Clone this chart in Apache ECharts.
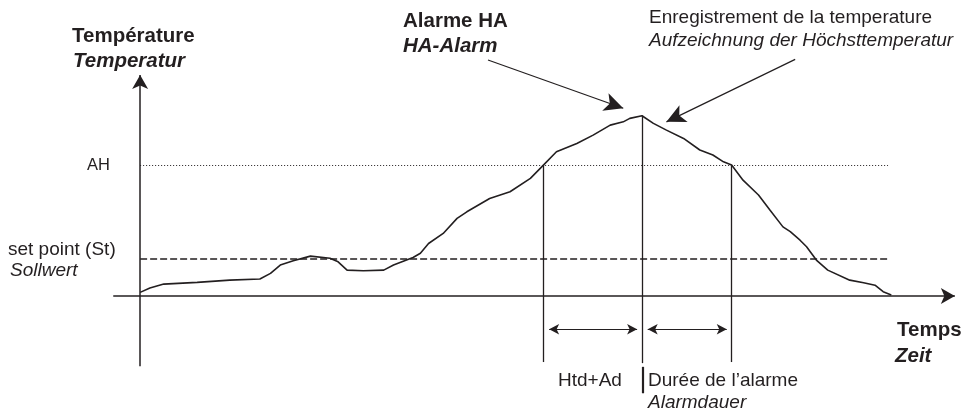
<!DOCTYPE html>
<html>
<head>
<meta charset="utf-8">
<script src="https://cdn.jsdelivr.net/npm/echarts@6/dist/echarts.min.js"></script>
<style>
  html, body { margin: 0; padding: 0; background: #fff; }
  #chart { width: 963px; height: 414px; }
</style>
</head>
<body>
<div id="chart"></div>
<script>
// temperature curve (time, temperature)
const timeVals = [0, 1.2, 2.9, 7.0, 11.0, 14.7, 16.0, 17.2, 18.8, 20.9, 23.3, 24.3, 25.4, 27.4, 29.9, 31.1, 33.5, 34.4, 35.4, 37.2, 38.9, 40.1, 42.9, 45.4, 47.9, 49.5, 51.1, 53.6, 55.6, 57.7, 59.3, 60.1, 61.6, 63.0, 64.6, 66.7, 68.7, 70.3, 71.6, 72.6, 74.0, 75.9, 77.3, 78.9, 79.8, 81.0, 81.8, 83.0, 84.4, 87.1, 88.8, 90.2, 91.2, 92.2]
const tempVals = [1.7, 3.7, 5.5, 6.3, 7.3, 7.8, 10.4, 14.2, 16.2, 18.3, 17.3, 15.7, 11.9, 11.6, 11.9, 14.2, 17.7, 19.6, 24.1, 28.7, 35.6, 38.6, 44.7, 47.8, 53.9, 60.0, 66.1, 69.9, 73.7, 78.3, 79.8, 81.4, 82.6, 79.1, 76.0, 72.2, 66.9, 64.6, 61.5, 60.0, 53.1, 46.3, 39.4, 31.7, 29.5, 25.6, 22.6, 16.5, 11.9, 7.3, 6.1, 5.0, 2.0, 0.5]

// thresholds and events
const setPoint = 17
const alarmHigh = 60
const alarmStart = 49.5
const peakTime = 61.6
const peakTemp = 82.6
const alarmEnd = 72.6
const refLineEnd = 91.8

const ink = '#231f20'
const chart = echarts.init(document.getElementById('chart'))

const curve = timeVals.map((t, i) => [t, tempVals[i]])

const seg = (a, b, startSym, endSym) => [
    { coord: a, symbol: startSym || 'none' },
    { coord: b, symbol: endSym || 'none' }
]

// text centred vertically on y
const txt = (text, x, y, font) => ({
    type: 'text', left: x, top: y - 9,
    style: { text: text, font: font, fill: ink, textVerticalAlign: 'top' }
})

const REG = '19px "Liberation Sans", Arial, sans-serif'
const ITA = 'italic 19px "Liberation Sans", Arial, sans-serif'
const BOLD = 'bold 20.5px "Liberation Sans", Arial, sans-serif'
const BOLDITA = 'italic bold 20.5px "Liberation Sans", Arial, sans-serif'

const markBase = { silent: true, animation: false, label: { show: false }, emphasis: { disabled: true } }

chart.setOption({
    animation: false,
    grid: { left: 0, right: 0, top: 0, bottom: 0 },
    xAxis: { type: 'value', min: -17.2, max: 101, show: false },
    yAxis: { type: 'value', min: -54, max: 135.6, show: false },
    series: [
        {
            type: 'line',
            data: curve,
            showSymbol: false,
            lineStyle: { color: ink, width: 1.6 },
            z: 5
        },
        {   // axes
            type: 'line', data: [],
            markLine: Object.assign({}, markBase, {
                symbolSize: [12, 14],
                lineStyle: { color: ink, width: 1.5, type: 'solid' },
                data: [
                    seg([-3.3, 0], [100, 0], 'none', 'arrow'),
                    seg([0, -32.1], [0, 101.2], 'none', 'arrow')
                ]
            })
        },
        {   // AH dotted
            type: 'line', data: [],
            markLine: Object.assign({}, markBase, {
                lineStyle: { color: ink, width: 1, type: [1, 2] },
                data: [seg([0, alarmHigh], [refLineEnd, alarmHigh])]
            })
        },
        {   // set point dashed
            type: 'line', data: [],
            markLine: Object.assign({}, markBase, {
                lineStyle: { color: ink, width: 1.5, type: [7, 3] },
                data: [seg([0, setPoint], [refLineEnd, setPoint])]
            })
        },
        {   // event verticals
            type: 'line', data: [],
            markLine: Object.assign({}, markBase, {
                lineStyle: { color: ink, width: 1.3, type: 'solid' },
                data: [
                    seg([alarmStart, alarmHigh], [alarmStart, -30.2]),
                    seg([peakTime, peakTemp], [peakTime, -30.7]),
                    seg([alarmEnd, alarmHigh], [alarmEnd, -30.2])
                ]
            })
        },
        {   // separator tick under the peak line
            type: 'line', data: [],
            markLine: Object.assign({}, markBase, {
                lineStyle: { color: ink, width: 2.2, type: 'solid' },
                data: [seg([61.75, -32.4], [61.75, -44.5])]
            })
        },
        {   // duration arrows
            type: 'line', data: [],
            markLine: Object.assign({}, markBase, {
                symbolSize: [8, 10],
                lineStyle: { color: ink, width: 1.2, type: 'solid' },
                data: [
                    seg([50.2, -15.2], [61.0, -15.2], 'arrow', 'arrow'),
                    seg([62.3, -15.2], [72.0, -15.2], 'arrow', 'arrow')
                ]
            })
        },
        {   // callout arrows
            type: 'line', data: [],
            markLine: Object.assign({}, markBase, {
                symbolSize: [14, 19],
                lineStyle: { color: ink, width: 1.2, type: 'solid' },
                data: [
                    seg([42.7, 108.1], [59.3, 86.0], 'none', 'arrow'),
                    seg([80.4, 108.4], [64.6, 79.8], 'none', 'arrow')
                ]
            })
        }
    ],
    graphic: [
        txt('Température', 72, 35, BOLD),
        txt('Temperatur', 73, 60, BOLDITA),
        txt('Alarme HA', 403, 20, BOLD),
        txt('HA-Alarm', 403, 45, BOLDITA),
        txt('Enregistrement de la temperature', 649, 17, REG),
        txt('Aufzeichnung der Höchsttemperatur', 649, 40, ITA),
        txt('AH', 87, 166, '16.5px "Liberation Sans", Arial, sans-serif'),
        txt('set point (St)', 8, 249, REG),
        txt('Sollwert', 10, 270, ITA),
        txt('Temps', 897, 329, BOLD),
        txt('Zeit', 895, 355, BOLDITA),
        txt('Htd+Ad', 558, 380, REG),
        txt('Durée de l\u2019alarme', 648, 380, REG),
        txt('Alarmdauer', 648, 402, ITA)
    ]
})
</script>
</body>
</html>
